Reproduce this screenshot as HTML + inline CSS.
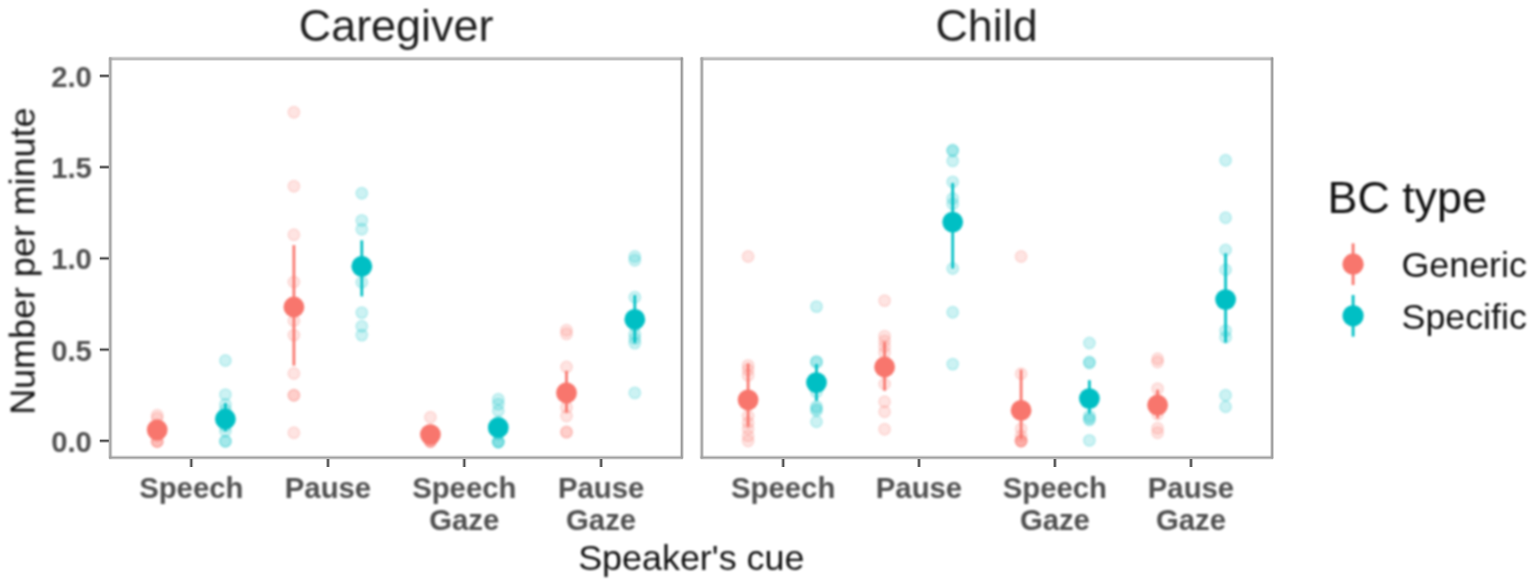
<!DOCTYPE html>
<html lang="en"><head><meta charset="utf-8"><title>BC type by speaker's cue</title>
<style>
html,body{margin:0;padding:0;background:#fff;}
body{width:1535px;height:588px;overflow:hidden;}
svg{display:block;}
.bl{filter:blur(1px);}
text{font-family:"Liberation Sans",Arial,Helvetica,sans-serif;}
.strip{font-size:44.9px;fill:#1f1f1f;}
.axt{font-size:35.9px;fill:#111;}
.tick{font-size:29.3px;font-weight:bold;fill:#505050;}
.leg{font-size:35.8px;fill:#111;}
.legt{font-size:44.8px;fill:#111;}
</style></head><body>
<svg width="1535" height="588" viewBox="0 0 1535 588">
<rect width="1535" height="588" fill="#fff"/>
<g>
<line x1="109.1" y1="58.7" x2="682.8" y2="58.7" stroke="#bcbcbc" stroke-width="4.6" stroke-opacity="0.4" stroke-linecap="butt"/>
<line x1="109.1" y1="58.7" x2="682.8" y2="58.7" stroke="#bcbcbc" stroke-width="2.4" stroke-linecap="butt"/>
<line x1="110.3" y1="57.5" x2="110.3" y2="458.6" stroke="#a6a6a6" stroke-width="4.2" stroke-opacity="0.4" stroke-linecap="butt"/>
<line x1="110.3" y1="57.5" x2="110.3" y2="458.6" stroke="#a6a6a6" stroke-width="2.0" stroke-linecap="butt"/>
<line x1="681.8" y1="57.5" x2="681.8" y2="458.6" stroke="#979797" stroke-width="3.8" stroke-opacity="0.4" stroke-linecap="butt"/>
<line x1="681.8" y1="57.5" x2="681.8" y2="458.6" stroke="#979797" stroke-width="1.6" stroke-linecap="butt"/>
<line x1="109.1" y1="457.6" x2="682.8" y2="457.6" stroke="#a0a0a0" stroke-width="4.0" stroke-opacity="0.4" stroke-linecap="butt"/>
<line x1="109.1" y1="457.6" x2="682.8" y2="457.6" stroke="#a0a0a0" stroke-width="1.8" stroke-linecap="butt"/>
<line x1="700.6" y1="58.7" x2="1273.1" y2="58.7" stroke="#bcbcbc" stroke-width="4.6" stroke-opacity="0.4" stroke-linecap="butt"/>
<line x1="700.6" y1="58.7" x2="1273.1" y2="58.7" stroke="#bcbcbc" stroke-width="2.4" stroke-linecap="butt"/>
<line x1="701.8" y1="57.5" x2="701.8" y2="458.6" stroke="#a6a6a6" stroke-width="4.2" stroke-opacity="0.4" stroke-linecap="butt"/>
<line x1="701.8" y1="57.5" x2="701.8" y2="458.6" stroke="#a6a6a6" stroke-width="2.0" stroke-linecap="butt"/>
<line x1="1272.1" y1="57.5" x2="1272.1" y2="458.6" stroke="#979797" stroke-width="3.8" stroke-opacity="0.4" stroke-linecap="butt"/>
<line x1="1272.1" y1="57.5" x2="1272.1" y2="458.6" stroke="#979797" stroke-width="1.6" stroke-linecap="butt"/>
<line x1="700.6" y1="457.6" x2="1273.1" y2="457.6" stroke="#a0a0a0" stroke-width="4.0" stroke-opacity="0.4" stroke-linecap="butt"/>
<line x1="700.6" y1="457.6" x2="1273.1" y2="457.6" stroke="#a0a0a0" stroke-width="1.8" stroke-linecap="butt"/>
<line x1="99.8" y1="440.8" x2="108.8" y2="440.8" stroke="#4a4a4a" stroke-width="3.8" stroke-opacity="0.4" stroke-linecap="butt"/>
<line x1="99.8" y1="440.8" x2="108.8" y2="440.8" stroke="#4a4a4a" stroke-width="1.6" stroke-linecap="butt"/>
<line x1="99.8" y1="349.6" x2="108.8" y2="349.6" stroke="#4a4a4a" stroke-width="3.8" stroke-opacity="0.4" stroke-linecap="butt"/>
<line x1="99.8" y1="349.6" x2="108.8" y2="349.6" stroke="#4a4a4a" stroke-width="1.6" stroke-linecap="butt"/>
<line x1="99.8" y1="258.4" x2="108.8" y2="258.4" stroke="#4a4a4a" stroke-width="3.8" stroke-opacity="0.4" stroke-linecap="butt"/>
<line x1="99.8" y1="258.4" x2="108.8" y2="258.4" stroke="#4a4a4a" stroke-width="1.6" stroke-linecap="butt"/>
<line x1="99.8" y1="167.1" x2="108.8" y2="167.1" stroke="#4a4a4a" stroke-width="3.8" stroke-opacity="0.4" stroke-linecap="butt"/>
<line x1="99.8" y1="167.1" x2="108.8" y2="167.1" stroke="#4a4a4a" stroke-width="1.6" stroke-linecap="butt"/>
<line x1="99.8" y1="75.9" x2="108.8" y2="75.9" stroke="#4a4a4a" stroke-width="3.8" stroke-opacity="0.4" stroke-linecap="butt"/>
<line x1="99.8" y1="75.9" x2="108.8" y2="75.9" stroke="#4a4a4a" stroke-width="1.6" stroke-linecap="butt"/>
<line x1="191.3" y1="459.0" x2="191.3" y2="467.0" stroke="#4a4a4a" stroke-width="3.8" stroke-opacity="0.4" stroke-linecap="butt"/>
<line x1="191.3" y1="459.0" x2="191.3" y2="467.0" stroke="#4a4a4a" stroke-width="1.6" stroke-linecap="butt"/>
<line x1="328.0" y1="459.0" x2="328.0" y2="467.0" stroke="#4a4a4a" stroke-width="3.8" stroke-opacity="0.4" stroke-linecap="butt"/>
<line x1="328.0" y1="459.0" x2="328.0" y2="467.0" stroke="#4a4a4a" stroke-width="1.6" stroke-linecap="butt"/>
<line x1="464.3" y1="459.0" x2="464.3" y2="467.0" stroke="#4a4a4a" stroke-width="3.8" stroke-opacity="0.4" stroke-linecap="butt"/>
<line x1="464.3" y1="459.0" x2="464.3" y2="467.0" stroke="#4a4a4a" stroke-width="1.6" stroke-linecap="butt"/>
<line x1="601.1" y1="459.0" x2="601.1" y2="467.0" stroke="#4a4a4a" stroke-width="3.8" stroke-opacity="0.4" stroke-linecap="butt"/>
<line x1="601.1" y1="459.0" x2="601.1" y2="467.0" stroke="#4a4a4a" stroke-width="1.6" stroke-linecap="butt"/>
<line x1="783.2" y1="459.0" x2="783.2" y2="467.0" stroke="#4a4a4a" stroke-width="3.8" stroke-opacity="0.4" stroke-linecap="butt"/>
<line x1="783.2" y1="459.0" x2="783.2" y2="467.0" stroke="#4a4a4a" stroke-width="1.6" stroke-linecap="butt"/>
<line x1="919.0" y1="459.0" x2="919.0" y2="467.0" stroke="#4a4a4a" stroke-width="3.8" stroke-opacity="0.4" stroke-linecap="butt"/>
<line x1="919.0" y1="459.0" x2="919.0" y2="467.0" stroke="#4a4a4a" stroke-width="1.6" stroke-linecap="butt"/>
<line x1="1054.9" y1="459.0" x2="1054.9" y2="467.0" stroke="#4a4a4a" stroke-width="3.8" stroke-opacity="0.4" stroke-linecap="butt"/>
<line x1="1054.9" y1="459.0" x2="1054.9" y2="467.0" stroke="#4a4a4a" stroke-width="1.6" stroke-linecap="butt"/>
<line x1="1191.0" y1="459.0" x2="1191.0" y2="467.0" stroke="#4a4a4a" stroke-width="3.8" stroke-opacity="0.4" stroke-linecap="butt"/>
<line x1="1191.0" y1="459.0" x2="1191.0" y2="467.0" stroke="#4a4a4a" stroke-width="1.6" stroke-linecap="butt"/>
</g>
<g class="bl">
<text class="strip" x="396.1" y="40.8" text-anchor="middle">Caregiver</text>
<text class="strip" x="986.6" y="40.8" text-anchor="middle">Child</text>
<text class="tick" x="91.9" y="451.7" text-anchor="end">0.0</text>
<text class="tick" x="91.9" y="360.5" text-anchor="end">0.5</text>
<text class="tick" x="91.9" y="269.2" text-anchor="end">1.0</text>
<text class="tick" x="91.9" y="178.0" text-anchor="end">1.5</text>
<text class="tick" x="91.9" y="86.8" text-anchor="end">2.0</text>
<text class="tick" x="191.3" y="498.2" text-anchor="middle">Speech</text>
<text class="tick" x="328.0" y="498.2" text-anchor="middle">Pause</text>
<text class="tick" x="464.3" y="498.2" text-anchor="middle">Speech</text>
<text class="tick" x="464.3" y="529.8" text-anchor="middle">Gaze</text>
<text class="tick" x="601.1" y="498.2" text-anchor="middle">Pause</text>
<text class="tick" x="601.1" y="529.8" text-anchor="middle">Gaze</text>
<text class="tick" x="783.2" y="498.2" text-anchor="middle">Speech</text>
<text class="tick" x="919.0" y="498.2" text-anchor="middle">Pause</text>
<text class="tick" x="1054.9" y="498.2" text-anchor="middle">Speech</text>
<text class="tick" x="1054.9" y="529.8" text-anchor="middle">Gaze</text>
<text class="tick" x="1191.0" y="498.2" text-anchor="middle">Pause</text>
<text class="tick" x="1191.0" y="529.8" text-anchor="middle">Gaze</text>
<text class="axt" x="691.3" y="570.3" text-anchor="middle">Speaker's cue</text>
<text class="axt" transform="translate(34.6,261.2) rotate(-90)" text-anchor="middle">Number per minute</text>
<circle cx="157.2" cy="415.2" r="5.7" fill="#F8766D" fill-opacity="0.2" stroke="#F8766D" stroke-opacity="0.22" stroke-width="1.5"/>
<circle cx="157.2" cy="418.3" r="5.7" fill="#F8766D" fill-opacity="0.2" stroke="#F8766D" stroke-opacity="0.22" stroke-width="1.5"/>
<circle cx="157.2" cy="425.0" r="5.7" fill="#F8766D" fill-opacity="0.2" stroke="#F8766D" stroke-opacity="0.22" stroke-width="1.5"/>
<circle cx="157.2" cy="431.0" r="5.7" fill="#F8766D" fill-opacity="0.2" stroke="#F8766D" stroke-opacity="0.22" stroke-width="1.5"/>
<circle cx="157.2" cy="436.0" r="5.7" fill="#F8766D" fill-opacity="0.2" stroke="#F8766D" stroke-opacity="0.22" stroke-width="1.5"/>
<circle cx="157.2" cy="441.5" r="5.7" fill="#F8766D" fill-opacity="0.2" stroke="#F8766D" stroke-opacity="0.22" stroke-width="1.5"/>
<circle cx="157.2" cy="441.5" r="5.7" fill="#F8766D" fill-opacity="0.2" stroke="#F8766D" stroke-opacity="0.22" stroke-width="1.5"/>
<circle cx="157.2" cy="441.5" r="5.7" fill="#F8766D" fill-opacity="0.2" stroke="#F8766D" stroke-opacity="0.22" stroke-width="1.5"/>
<circle cx="225.4" cy="360.5" r="5.7" fill="#00BFC4" fill-opacity="0.2" stroke="#00BFC4" stroke-opacity="0.22" stroke-width="1.5"/>
<circle cx="225.4" cy="394.6" r="5.7" fill="#00BFC4" fill-opacity="0.2" stroke="#00BFC4" stroke-opacity="0.22" stroke-width="1.5"/>
<circle cx="225.4" cy="404.5" r="5.7" fill="#00BFC4" fill-opacity="0.2" stroke="#00BFC4" stroke-opacity="0.22" stroke-width="1.5"/>
<circle cx="225.4" cy="410.0" r="5.7" fill="#00BFC4" fill-opacity="0.2" stroke="#00BFC4" stroke-opacity="0.22" stroke-width="1.5"/>
<circle cx="225.4" cy="416.0" r="5.7" fill="#00BFC4" fill-opacity="0.2" stroke="#00BFC4" stroke-opacity="0.22" stroke-width="1.5"/>
<circle cx="225.4" cy="426.0" r="5.7" fill="#00BFC4" fill-opacity="0.2" stroke="#00BFC4" stroke-opacity="0.22" stroke-width="1.5"/>
<circle cx="225.4" cy="431.0" r="5.7" fill="#00BFC4" fill-opacity="0.2" stroke="#00BFC4" stroke-opacity="0.22" stroke-width="1.5"/>
<circle cx="225.4" cy="441.3" r="5.7" fill="#00BFC4" fill-opacity="0.2" stroke="#00BFC4" stroke-opacity="0.22" stroke-width="1.5"/>
<circle cx="225.4" cy="441.3" r="5.7" fill="#00BFC4" fill-opacity="0.2" stroke="#00BFC4" stroke-opacity="0.22" stroke-width="1.5"/>
<circle cx="293.9" cy="112.3" r="5.7" fill="#F8766D" fill-opacity="0.2" stroke="#F8766D" stroke-opacity="0.22" stroke-width="1.5"/>
<circle cx="293.9" cy="186.2" r="5.7" fill="#F8766D" fill-opacity="0.2" stroke="#F8766D" stroke-opacity="0.22" stroke-width="1.5"/>
<circle cx="293.9" cy="234.8" r="5.7" fill="#F8766D" fill-opacity="0.2" stroke="#F8766D" stroke-opacity="0.22" stroke-width="1.5"/>
<circle cx="293.9" cy="282.0" r="5.7" fill="#F8766D" fill-opacity="0.2" stroke="#F8766D" stroke-opacity="0.22" stroke-width="1.5"/>
<circle cx="293.9" cy="320.8" r="5.7" fill="#F8766D" fill-opacity="0.2" stroke="#F8766D" stroke-opacity="0.22" stroke-width="1.5"/>
<circle cx="293.9" cy="335.1" r="5.7" fill="#F8766D" fill-opacity="0.2" stroke="#F8766D" stroke-opacity="0.22" stroke-width="1.5"/>
<circle cx="293.9" cy="373.5" r="5.7" fill="#F8766D" fill-opacity="0.2" stroke="#F8766D" stroke-opacity="0.22" stroke-width="1.5"/>
<circle cx="293.9" cy="395.2" r="5.7" fill="#F8766D" fill-opacity="0.2" stroke="#F8766D" stroke-opacity="0.22" stroke-width="1.5"/>
<circle cx="293.9" cy="395.2" r="5.7" fill="#F8766D" fill-opacity="0.2" stroke="#F8766D" stroke-opacity="0.22" stroke-width="1.5"/>
<circle cx="293.9" cy="432.8" r="5.7" fill="#F8766D" fill-opacity="0.2" stroke="#F8766D" stroke-opacity="0.22" stroke-width="1.5"/>
<circle cx="361.8" cy="193.3" r="5.7" fill="#00BFC4" fill-opacity="0.2" stroke="#00BFC4" stroke-opacity="0.22" stroke-width="1.5"/>
<circle cx="361.8" cy="220.4" r="5.7" fill="#00BFC4" fill-opacity="0.2" stroke="#00BFC4" stroke-opacity="0.22" stroke-width="1.5"/>
<circle cx="361.8" cy="229.2" r="5.7" fill="#00BFC4" fill-opacity="0.2" stroke="#00BFC4" stroke-opacity="0.22" stroke-width="1.5"/>
<circle cx="361.8" cy="262.0" r="5.7" fill="#00BFC4" fill-opacity="0.2" stroke="#00BFC4" stroke-opacity="0.22" stroke-width="1.5"/>
<circle cx="361.8" cy="282.2" r="5.7" fill="#00BFC4" fill-opacity="0.2" stroke="#00BFC4" stroke-opacity="0.22" stroke-width="1.5"/>
<circle cx="361.8" cy="312.6" r="5.7" fill="#00BFC4" fill-opacity="0.2" stroke="#00BFC4" stroke-opacity="0.22" stroke-width="1.5"/>
<circle cx="361.8" cy="326.3" r="5.7" fill="#00BFC4" fill-opacity="0.2" stroke="#00BFC4" stroke-opacity="0.22" stroke-width="1.5"/>
<circle cx="361.8" cy="335.1" r="5.7" fill="#00BFC4" fill-opacity="0.2" stroke="#00BFC4" stroke-opacity="0.22" stroke-width="1.5"/>
<circle cx="430.4" cy="417.3" r="5.7" fill="#F8766D" fill-opacity="0.2" stroke="#F8766D" stroke-opacity="0.22" stroke-width="1.5"/>
<circle cx="430.4" cy="430.0" r="5.7" fill="#F8766D" fill-opacity="0.2" stroke="#F8766D" stroke-opacity="0.22" stroke-width="1.5"/>
<circle cx="430.4" cy="436.0" r="5.7" fill="#F8766D" fill-opacity="0.2" stroke="#F8766D" stroke-opacity="0.22" stroke-width="1.5"/>
<circle cx="430.4" cy="441.0" r="5.7" fill="#F8766D" fill-opacity="0.2" stroke="#F8766D" stroke-opacity="0.22" stroke-width="1.5"/>
<circle cx="430.4" cy="441.5" r="5.7" fill="#F8766D" fill-opacity="0.2" stroke="#F8766D" stroke-opacity="0.22" stroke-width="1.5"/>
<circle cx="430.4" cy="441.5" r="5.7" fill="#F8766D" fill-opacity="0.2" stroke="#F8766D" stroke-opacity="0.22" stroke-width="1.5"/>
<circle cx="430.4" cy="441.5" r="5.7" fill="#F8766D" fill-opacity="0.2" stroke="#F8766D" stroke-opacity="0.22" stroke-width="1.5"/>
<circle cx="498.3" cy="399.2" r="5.7" fill="#00BFC4" fill-opacity="0.2" stroke="#00BFC4" stroke-opacity="0.22" stroke-width="1.5"/>
<circle cx="498.3" cy="404.1" r="5.7" fill="#00BFC4" fill-opacity="0.2" stroke="#00BFC4" stroke-opacity="0.22" stroke-width="1.5"/>
<circle cx="498.3" cy="410.7" r="5.7" fill="#00BFC4" fill-opacity="0.2" stroke="#00BFC4" stroke-opacity="0.22" stroke-width="1.5"/>
<circle cx="498.3" cy="422.0" r="5.7" fill="#00BFC4" fill-opacity="0.2" stroke="#00BFC4" stroke-opacity="0.22" stroke-width="1.5"/>
<circle cx="498.3" cy="434.0" r="5.7" fill="#00BFC4" fill-opacity="0.2" stroke="#00BFC4" stroke-opacity="0.22" stroke-width="1.5"/>
<circle cx="498.3" cy="442.0" r="5.7" fill="#00BFC4" fill-opacity="0.2" stroke="#00BFC4" stroke-opacity="0.22" stroke-width="1.5"/>
<circle cx="498.3" cy="442.0" r="5.7" fill="#00BFC4" fill-opacity="0.2" stroke="#00BFC4" stroke-opacity="0.22" stroke-width="1.5"/>
<circle cx="498.3" cy="442.0" r="5.7" fill="#00BFC4" fill-opacity="0.2" stroke="#00BFC4" stroke-opacity="0.22" stroke-width="1.5"/>
<circle cx="566.5" cy="330.3" r="5.7" fill="#F8766D" fill-opacity="0.2" stroke="#F8766D" stroke-opacity="0.22" stroke-width="1.5"/>
<circle cx="566.5" cy="333.9" r="5.7" fill="#F8766D" fill-opacity="0.2" stroke="#F8766D" stroke-opacity="0.22" stroke-width="1.5"/>
<circle cx="566.5" cy="367.0" r="5.7" fill="#F8766D" fill-opacity="0.2" stroke="#F8766D" stroke-opacity="0.22" stroke-width="1.5"/>
<circle cx="566.5" cy="388.0" r="5.7" fill="#F8766D" fill-opacity="0.2" stroke="#F8766D" stroke-opacity="0.22" stroke-width="1.5"/>
<circle cx="566.5" cy="398.0" r="5.7" fill="#F8766D" fill-opacity="0.2" stroke="#F8766D" stroke-opacity="0.22" stroke-width="1.5"/>
<circle cx="566.5" cy="407.4" r="5.7" fill="#F8766D" fill-opacity="0.2" stroke="#F8766D" stroke-opacity="0.22" stroke-width="1.5"/>
<circle cx="566.5" cy="416.0" r="5.7" fill="#F8766D" fill-opacity="0.2" stroke="#F8766D" stroke-opacity="0.22" stroke-width="1.5"/>
<circle cx="566.5" cy="431.8" r="5.7" fill="#F8766D" fill-opacity="0.2" stroke="#F8766D" stroke-opacity="0.22" stroke-width="1.5"/>
<circle cx="566.5" cy="432.4" r="5.7" fill="#F8766D" fill-opacity="0.2" stroke="#F8766D" stroke-opacity="0.22" stroke-width="1.5"/>
<circle cx="634.8" cy="256.5" r="5.7" fill="#00BFC4" fill-opacity="0.2" stroke="#00BFC4" stroke-opacity="0.22" stroke-width="1.5"/>
<circle cx="634.8" cy="260.2" r="5.7" fill="#00BFC4" fill-opacity="0.2" stroke="#00BFC4" stroke-opacity="0.22" stroke-width="1.5"/>
<circle cx="634.8" cy="297.3" r="5.7" fill="#00BFC4" fill-opacity="0.2" stroke="#00BFC4" stroke-opacity="0.22" stroke-width="1.5"/>
<circle cx="634.8" cy="318.0" r="5.7" fill="#00BFC4" fill-opacity="0.2" stroke="#00BFC4" stroke-opacity="0.22" stroke-width="1.5"/>
<circle cx="634.8" cy="326.0" r="5.7" fill="#00BFC4" fill-opacity="0.2" stroke="#00BFC4" stroke-opacity="0.22" stroke-width="1.5"/>
<circle cx="634.8" cy="334.3" r="5.7" fill="#00BFC4" fill-opacity="0.2" stroke="#00BFC4" stroke-opacity="0.22" stroke-width="1.5"/>
<circle cx="634.8" cy="338.7" r="5.7" fill="#00BFC4" fill-opacity="0.2" stroke="#00BFC4" stroke-opacity="0.22" stroke-width="1.5"/>
<circle cx="634.8" cy="343.1" r="5.7" fill="#00BFC4" fill-opacity="0.2" stroke="#00BFC4" stroke-opacity="0.22" stroke-width="1.5"/>
<circle cx="634.8" cy="392.9" r="5.7" fill="#00BFC4" fill-opacity="0.2" stroke="#00BFC4" stroke-opacity="0.22" stroke-width="1.5"/>
<circle cx="748.1" cy="256.5" r="5.7" fill="#F8766D" fill-opacity="0.2" stroke="#F8766D" stroke-opacity="0.22" stroke-width="1.5"/>
<circle cx="748.1" cy="365.4" r="5.7" fill="#F8766D" fill-opacity="0.2" stroke="#F8766D" stroke-opacity="0.22" stroke-width="1.5"/>
<circle cx="748.1" cy="369.8" r="5.7" fill="#F8766D" fill-opacity="0.2" stroke="#F8766D" stroke-opacity="0.22" stroke-width="1.5"/>
<circle cx="748.1" cy="375.4" r="5.7" fill="#F8766D" fill-opacity="0.2" stroke="#F8766D" stroke-opacity="0.22" stroke-width="1.5"/>
<circle cx="748.1" cy="402.0" r="5.7" fill="#F8766D" fill-opacity="0.2" stroke="#F8766D" stroke-opacity="0.22" stroke-width="1.5"/>
<circle cx="748.1" cy="416.0" r="5.7" fill="#F8766D" fill-opacity="0.2" stroke="#F8766D" stroke-opacity="0.22" stroke-width="1.5"/>
<circle cx="748.1" cy="422.7" r="5.7" fill="#F8766D" fill-opacity="0.2" stroke="#F8766D" stroke-opacity="0.22" stroke-width="1.5"/>
<circle cx="748.1" cy="428.8" r="5.7" fill="#F8766D" fill-opacity="0.2" stroke="#F8766D" stroke-opacity="0.22" stroke-width="1.5"/>
<circle cx="748.1" cy="435.9" r="5.7" fill="#F8766D" fill-opacity="0.2" stroke="#F8766D" stroke-opacity="0.22" stroke-width="1.5"/>
<circle cx="748.1" cy="441.0" r="5.7" fill="#F8766D" fill-opacity="0.2" stroke="#F8766D" stroke-opacity="0.22" stroke-width="1.5"/>
<circle cx="816.5" cy="306.6" r="5.7" fill="#00BFC4" fill-opacity="0.2" stroke="#00BFC4" stroke-opacity="0.22" stroke-width="1.5"/>
<circle cx="816.5" cy="361.4" r="5.7" fill="#00BFC4" fill-opacity="0.2" stroke="#00BFC4" stroke-opacity="0.22" stroke-width="1.5"/>
<circle cx="816.5" cy="362.4" r="5.7" fill="#00BFC4" fill-opacity="0.2" stroke="#00BFC4" stroke-opacity="0.22" stroke-width="1.5"/>
<circle cx="816.5" cy="380.0" r="5.7" fill="#00BFC4" fill-opacity="0.2" stroke="#00BFC4" stroke-opacity="0.22" stroke-width="1.5"/>
<circle cx="816.5" cy="392.0" r="5.7" fill="#00BFC4" fill-opacity="0.2" stroke="#00BFC4" stroke-opacity="0.22" stroke-width="1.5"/>
<circle cx="816.5" cy="406.5" r="5.7" fill="#00BFC4" fill-opacity="0.2" stroke="#00BFC4" stroke-opacity="0.22" stroke-width="1.5"/>
<circle cx="816.5" cy="408.8" r="5.7" fill="#00BFC4" fill-opacity="0.2" stroke="#00BFC4" stroke-opacity="0.22" stroke-width="1.5"/>
<circle cx="816.5" cy="410.8" r="5.7" fill="#00BFC4" fill-opacity="0.2" stroke="#00BFC4" stroke-opacity="0.22" stroke-width="1.5"/>
<circle cx="816.5" cy="421.8" r="5.7" fill="#00BFC4" fill-opacity="0.2" stroke="#00BFC4" stroke-opacity="0.22" stroke-width="1.5"/>
<circle cx="884.6" cy="300.6" r="5.7" fill="#F8766D" fill-opacity="0.2" stroke="#F8766D" stroke-opacity="0.22" stroke-width="1.5"/>
<circle cx="884.6" cy="336.1" r="5.7" fill="#F8766D" fill-opacity="0.2" stroke="#F8766D" stroke-opacity="0.22" stroke-width="1.5"/>
<circle cx="884.6" cy="340.9" r="5.7" fill="#F8766D" fill-opacity="0.2" stroke="#F8766D" stroke-opacity="0.22" stroke-width="1.5"/>
<circle cx="884.6" cy="346.5" r="5.7" fill="#F8766D" fill-opacity="0.2" stroke="#F8766D" stroke-opacity="0.22" stroke-width="1.5"/>
<circle cx="884.6" cy="352.5" r="5.7" fill="#F8766D" fill-opacity="0.2" stroke="#F8766D" stroke-opacity="0.22" stroke-width="1.5"/>
<circle cx="884.6" cy="368.0" r="5.7" fill="#F8766D" fill-opacity="0.2" stroke="#F8766D" stroke-opacity="0.22" stroke-width="1.5"/>
<circle cx="884.6" cy="384.0" r="5.7" fill="#F8766D" fill-opacity="0.2" stroke="#F8766D" stroke-opacity="0.22" stroke-width="1.5"/>
<circle cx="884.6" cy="401.7" r="5.7" fill="#F8766D" fill-opacity="0.2" stroke="#F8766D" stroke-opacity="0.22" stroke-width="1.5"/>
<circle cx="884.6" cy="411.7" r="5.7" fill="#F8766D" fill-opacity="0.2" stroke="#F8766D" stroke-opacity="0.22" stroke-width="1.5"/>
<circle cx="884.6" cy="429.3" r="5.7" fill="#F8766D" fill-opacity="0.2" stroke="#F8766D" stroke-opacity="0.22" stroke-width="1.5"/>
<circle cx="952.7" cy="150.0" r="5.7" fill="#00BFC4" fill-opacity="0.2" stroke="#00BFC4" stroke-opacity="0.22" stroke-width="1.5"/>
<circle cx="952.7" cy="151.0" r="5.7" fill="#00BFC4" fill-opacity="0.2" stroke="#00BFC4" stroke-opacity="0.22" stroke-width="1.5"/>
<circle cx="952.7" cy="160.9" r="5.7" fill="#00BFC4" fill-opacity="0.2" stroke="#00BFC4" stroke-opacity="0.22" stroke-width="1.5"/>
<circle cx="952.7" cy="181.9" r="5.7" fill="#00BFC4" fill-opacity="0.2" stroke="#00BFC4" stroke-opacity="0.22" stroke-width="1.5"/>
<circle cx="952.7" cy="198.5" r="5.7" fill="#00BFC4" fill-opacity="0.2" stroke="#00BFC4" stroke-opacity="0.22" stroke-width="1.5"/>
<circle cx="952.7" cy="204.0" r="5.7" fill="#00BFC4" fill-opacity="0.2" stroke="#00BFC4" stroke-opacity="0.22" stroke-width="1.5"/>
<circle cx="952.7" cy="268.5" r="5.7" fill="#00BFC4" fill-opacity="0.2" stroke="#00BFC4" stroke-opacity="0.22" stroke-width="1.5"/>
<circle cx="952.7" cy="312.3" r="5.7" fill="#00BFC4" fill-opacity="0.2" stroke="#00BFC4" stroke-opacity="0.22" stroke-width="1.5"/>
<circle cx="952.7" cy="364.1" r="5.7" fill="#00BFC4" fill-opacity="0.2" stroke="#00BFC4" stroke-opacity="0.22" stroke-width="1.5"/>
<circle cx="1021.1" cy="256.5" r="5.7" fill="#F8766D" fill-opacity="0.2" stroke="#F8766D" stroke-opacity="0.22" stroke-width="1.5"/>
<circle cx="1021.1" cy="373.7" r="5.7" fill="#F8766D" fill-opacity="0.2" stroke="#F8766D" stroke-opacity="0.22" stroke-width="1.5"/>
<circle cx="1021.1" cy="428.8" r="5.7" fill="#F8766D" fill-opacity="0.2" stroke="#F8766D" stroke-opacity="0.22" stroke-width="1.5"/>
<circle cx="1021.1" cy="436.0" r="5.7" fill="#F8766D" fill-opacity="0.2" stroke="#F8766D" stroke-opacity="0.22" stroke-width="1.5"/>
<circle cx="1021.1" cy="441.0" r="5.7" fill="#F8766D" fill-opacity="0.2" stroke="#F8766D" stroke-opacity="0.22" stroke-width="1.5"/>
<circle cx="1021.1" cy="441.0" r="5.7" fill="#F8766D" fill-opacity="0.2" stroke="#F8766D" stroke-opacity="0.22" stroke-width="1.5"/>
<circle cx="1021.1" cy="441.0" r="5.7" fill="#F8766D" fill-opacity="0.2" stroke="#F8766D" stroke-opacity="0.22" stroke-width="1.5"/>
<circle cx="1021.1" cy="441.0" r="5.7" fill="#F8766D" fill-opacity="0.2" stroke="#F8766D" stroke-opacity="0.22" stroke-width="1.5"/>
<circle cx="1089.4" cy="343.0" r="5.7" fill="#00BFC4" fill-opacity="0.2" stroke="#00BFC4" stroke-opacity="0.22" stroke-width="1.5"/>
<circle cx="1089.4" cy="362.0" r="5.7" fill="#00BFC4" fill-opacity="0.2" stroke="#00BFC4" stroke-opacity="0.22" stroke-width="1.5"/>
<circle cx="1089.4" cy="363.0" r="5.7" fill="#00BFC4" fill-opacity="0.2" stroke="#00BFC4" stroke-opacity="0.22" stroke-width="1.5"/>
<circle cx="1089.4" cy="400.0" r="5.7" fill="#00BFC4" fill-opacity="0.2" stroke="#00BFC4" stroke-opacity="0.22" stroke-width="1.5"/>
<circle cx="1089.4" cy="416.0" r="5.7" fill="#00BFC4" fill-opacity="0.2" stroke="#00BFC4" stroke-opacity="0.22" stroke-width="1.5"/>
<circle cx="1089.4" cy="418.6" r="5.7" fill="#00BFC4" fill-opacity="0.2" stroke="#00BFC4" stroke-opacity="0.22" stroke-width="1.5"/>
<circle cx="1089.4" cy="420.0" r="5.7" fill="#00BFC4" fill-opacity="0.2" stroke="#00BFC4" stroke-opacity="0.22" stroke-width="1.5"/>
<circle cx="1089.4" cy="440.4" r="5.7" fill="#00BFC4" fill-opacity="0.2" stroke="#00BFC4" stroke-opacity="0.22" stroke-width="1.5"/>
<circle cx="1157.6" cy="358.7" r="5.7" fill="#F8766D" fill-opacity="0.2" stroke="#F8766D" stroke-opacity="0.22" stroke-width="1.5"/>
<circle cx="1157.6" cy="362.0" r="5.7" fill="#F8766D" fill-opacity="0.2" stroke="#F8766D" stroke-opacity="0.22" stroke-width="1.5"/>
<circle cx="1157.6" cy="388.6" r="5.7" fill="#F8766D" fill-opacity="0.2" stroke="#F8766D" stroke-opacity="0.22" stroke-width="1.5"/>
<circle cx="1157.6" cy="400.0" r="5.7" fill="#F8766D" fill-opacity="0.2" stroke="#F8766D" stroke-opacity="0.22" stroke-width="1.5"/>
<circle cx="1157.6" cy="408.0" r="5.7" fill="#F8766D" fill-opacity="0.2" stroke="#F8766D" stroke-opacity="0.22" stroke-width="1.5"/>
<circle cx="1157.6" cy="414.0" r="5.7" fill="#F8766D" fill-opacity="0.2" stroke="#F8766D" stroke-opacity="0.22" stroke-width="1.5"/>
<circle cx="1157.6" cy="428.3" r="5.7" fill="#F8766D" fill-opacity="0.2" stroke="#F8766D" stroke-opacity="0.22" stroke-width="1.5"/>
<circle cx="1157.6" cy="432.8" r="5.7" fill="#F8766D" fill-opacity="0.2" stroke="#F8766D" stroke-opacity="0.22" stroke-width="1.5"/>
<circle cx="1225.6" cy="160.3" r="5.7" fill="#00BFC4" fill-opacity="0.2" stroke="#00BFC4" stroke-opacity="0.22" stroke-width="1.5"/>
<circle cx="1225.6" cy="217.7" r="5.7" fill="#00BFC4" fill-opacity="0.2" stroke="#00BFC4" stroke-opacity="0.22" stroke-width="1.5"/>
<circle cx="1225.6" cy="250.0" r="5.7" fill="#00BFC4" fill-opacity="0.2" stroke="#00BFC4" stroke-opacity="0.22" stroke-width="1.5"/>
<circle cx="1225.6" cy="269.8" r="5.7" fill="#00BFC4" fill-opacity="0.2" stroke="#00BFC4" stroke-opacity="0.22" stroke-width="1.5"/>
<circle cx="1225.6" cy="300.0" r="5.7" fill="#00BFC4" fill-opacity="0.2" stroke="#00BFC4" stroke-opacity="0.22" stroke-width="1.5"/>
<circle cx="1225.6" cy="330.6" r="5.7" fill="#00BFC4" fill-opacity="0.2" stroke="#00BFC4" stroke-opacity="0.22" stroke-width="1.5"/>
<circle cx="1225.6" cy="337.2" r="5.7" fill="#00BFC4" fill-opacity="0.2" stroke="#00BFC4" stroke-opacity="0.22" stroke-width="1.5"/>
<circle cx="1225.6" cy="395.2" r="5.7" fill="#00BFC4" fill-opacity="0.2" stroke="#00BFC4" stroke-opacity="0.22" stroke-width="1.5"/>
<circle cx="1225.6" cy="406.7" r="5.7" fill="#00BFC4" fill-opacity="0.2" stroke="#00BFC4" stroke-opacity="0.22" stroke-width="1.5"/>
<line x1="157.2" x2="157.2" y1="422.0" y2="437.0" stroke="#F8766D" stroke-width="2.7"/>
<circle cx="157.2" cy="429.8" r="10.4" fill="#F8766D"/>
<line x1="225.4" x2="225.4" y1="403.0" y2="431.0" stroke="#00BFC4" stroke-width="2.7"/>
<circle cx="225.4" cy="419.0" r="10.4" fill="#00BFC4"/>
<line x1="293.9" x2="293.9" y1="245.1" y2="365.6" stroke="#F8766D" stroke-width="2.7"/>
<circle cx="293.9" cy="307.0" r="10.4" fill="#F8766D"/>
<line x1="361.8" x2="361.8" y1="240.3" y2="296.4" stroke="#00BFC4" stroke-width="2.7"/>
<circle cx="361.8" cy="266.3" r="10.4" fill="#00BFC4"/>
<line x1="430.4" x2="430.4" y1="429.0" y2="440.0" stroke="#F8766D" stroke-width="2.7"/>
<circle cx="430.4" cy="434.6" r="10.4" fill="#F8766D"/>
<line x1="498.3" x2="498.3" y1="418.0" y2="437.0" stroke="#00BFC4" stroke-width="2.7"/>
<circle cx="498.3" cy="427.7" r="10.4" fill="#00BFC4"/>
<line x1="566.5" x2="566.5" y1="370.8" y2="412.6" stroke="#F8766D" stroke-width="2.7"/>
<circle cx="566.5" cy="392.9" r="10.4" fill="#F8766D"/>
<line x1="634.8" x2="634.8" y1="295.1" y2="343.0" stroke="#00BFC4" stroke-width="2.7"/>
<circle cx="634.8" cy="319.4" r="10.4" fill="#00BFC4"/>
<line x1="748.1" x2="748.1" y1="363.4" y2="427.0" stroke="#F8766D" stroke-width="2.7"/>
<circle cx="748.1" cy="399.8" r="10.4" fill="#F8766D"/>
<line x1="816.5" x2="816.5" y1="364.0" y2="401.0" stroke="#00BFC4" stroke-width="2.7"/>
<circle cx="816.5" cy="382.6" r="10.4" fill="#00BFC4"/>
<line x1="884.6" x2="884.6" y1="342.0" y2="390.7" stroke="#F8766D" stroke-width="2.7"/>
<circle cx="884.6" cy="367.0" r="10.4" fill="#F8766D"/>
<line x1="952.7" x2="952.7" y1="183.0" y2="268.5" stroke="#00BFC4" stroke-width="2.7"/>
<circle cx="952.7" cy="222.1" r="10.4" fill="#00BFC4"/>
<line x1="1021.1" x2="1021.1" y1="369.6" y2="439.0" stroke="#F8766D" stroke-width="2.7"/>
<circle cx="1021.1" cy="410.4" r="10.4" fill="#F8766D"/>
<line x1="1089.4" x2="1089.4" y1="380.2" y2="413.5" stroke="#00BFC4" stroke-width="2.7"/>
<circle cx="1089.4" cy="398.6" r="10.4" fill="#00BFC4"/>
<line x1="1157.6" x2="1157.6" y1="389.7" y2="418.4" stroke="#F8766D" stroke-width="2.7"/>
<circle cx="1157.6" cy="405.1" r="10.4" fill="#F8766D"/>
<line x1="1225.6" x2="1225.6" y1="253.3" y2="342.7" stroke="#00BFC4" stroke-width="2.7"/>
<circle cx="1225.6" cy="299.6" r="10.4" fill="#00BFC4"/>
<text class="legt" x="1327.5" y="212.8">BC type</text>
<line x1="1353.1" x2="1353.1" y1="243.4" y2="285.0" stroke="#F8766D" stroke-width="2.8"/>
<circle cx="1353.1" cy="264.2" r="10.6" fill="#F8766D"/>
<text class="leg" x="1401.5" y="277.3">Generic</text>
<line x1="1353.1" x2="1353.1" y1="295.0" y2="336.6" stroke="#00BFC4" stroke-width="2.8"/>
<circle cx="1353.1" cy="315.8" r="10.6" fill="#00BFC4"/>
<text class="leg" x="1401.5" y="329.0">Specific</text>
</g>
</svg></body></html>
